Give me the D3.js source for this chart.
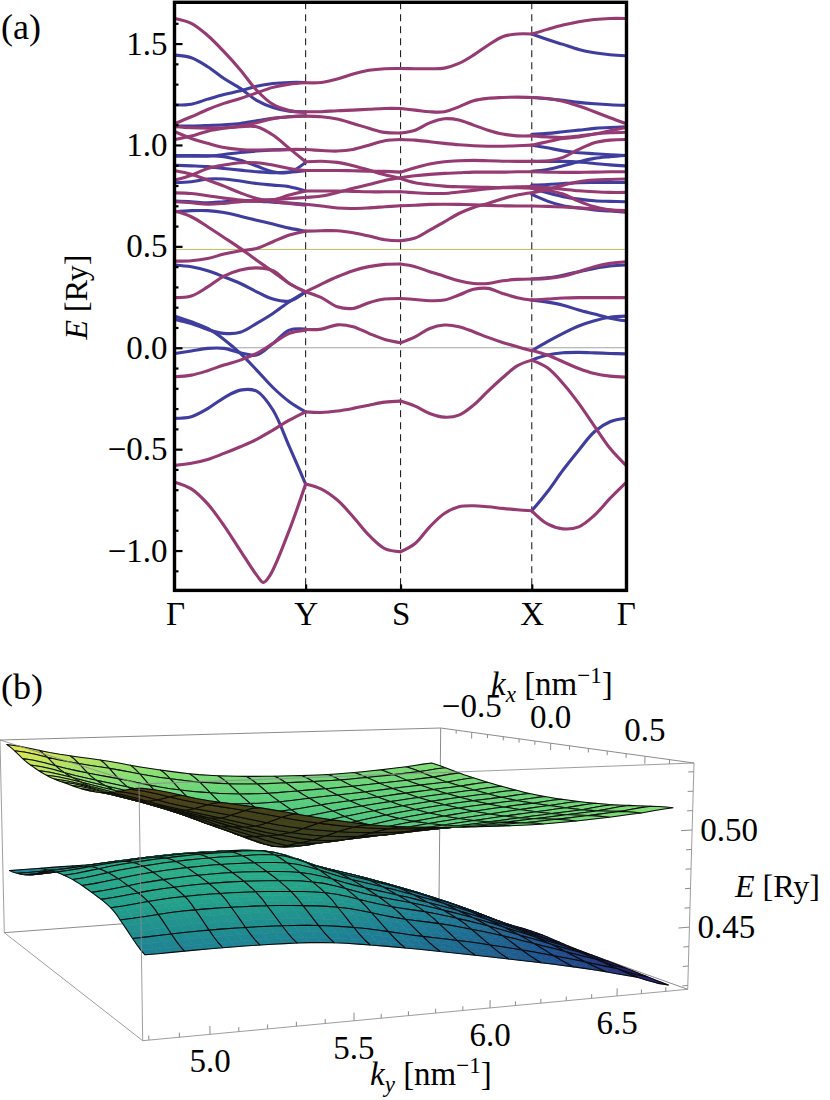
<!DOCTYPE html>
<html>
<head>
<meta charset="utf-8">
<script src="https://cdn.jsdelivr.net/npm/d3@7"></script>
<style>
  html, body { margin: 0; padding: 0; background: #fff; }
  svg { display: block; }
  text { font-family: "Liberation Serif", serif; fill: #000; }
</style>
</head>
<body>
<svg id="chart" width="830" height="1100"></svg>
<script>
// ---- panel (a): band structure, energies in Ry on each k path segment
const pathTicks = [0, 1.307, 2.257, 3.57, 4.51];
const pathNames = ["Γ", "Y", "S", "X", "Γ"];
const energyRange = [-1.198, 1.705];
const fermiLines = [0, 0.485];

const k_gy = [0, 0.163, 0.327, 0.49, 0.654, 0.817, 0.98, 1.144, 1.307];
const k_gy_dip = [0, 0.163, 0.327, 0.49, 0.654, 0.817, 0.885, 0.952, 1.144, 1.307];
const k_ys = [1.307, 1.465, 1.624, 1.782, 1.94, 2.099, 2.257];
const k_sx = [2.257, 2.403, 2.549, 2.695, 2.841, 2.987, 3.132, 3.278, 3.424, 3.57];
const k_xg = [3.57, 3.727, 3.883, 4.04, 4.197, 4.353, 4.51];

// Γ-Y
const gy_blue = [
  [1.443, 1.43, 1.386, 1.328, 1.279, 1.22, 1.185, 1.167, 1.164],
  [1.197, 1.201, 1.226, 1.249, 1.267, 1.29, 1.303, 1.308, 1.308],
  [1.093, 1.093, 1.096, 1.1, 1.106, 1.119, 1.131, 1.139, 1.144],
  [0.948, 0.948, 0.947, 0.942, 0.925, 0.896, 0.868, 0.865, 0.914],
  [0.945, 0.945, 0.945, 0.953, 0.963, 0.97, 0.975, 0.977, 0.978],
  [0.9, 0.897, 0.893, 0.884, 0.876, 0.868, 0.863, 0.866, 0.873],
  [0.814, 0.819, 0.832, 0.832, 0.822, 0.81, 0.802, 0.794, 0.773],
  [0.723, 0.72, 0.715, 0.72, 0.725, 0.723, 0.718, 0.713, 0.708],
  [0.671, 0.676, 0.676, 0.667, 0.649, 0.629, 0.61, 0.59, 0.575],
  [0.408, 0.399, 0.38, 0.35, 0.317, 0.276, 0.24, 0.23, 0.276],
  [0.156, 0.128, 0.095, 0.041, -0.028, -0.11, -0.196, -0.266, -0.316],
  [0.14, 0.12, 0.09, 0.071, 0.076, 0.12, 0.169, 0.227, 0.276],
  [-0.028, -0.016, -0.003, -0.003, -0.025, -0.036, 0.021, 0.087, 0.092],
  [-0.348, -0.34, -0.3, -0.247, -0.209, -0.214, -0.307, -0.488, -0.672]
];
const gy_purple = [
  [1.624, 1.6, 1.54, 1.46, 1.37, 1.27, 1.2, 1.17, 1.16],
  [1.106, 1.139, 1.175, 1.205, 1.229, 1.257, 1.284, 1.3, 1.307],
  [1.09, 1.085, 1.083, 1.085, 1.093, 1.11, 1.13, 1.139, 1.142],
  [1.027, 1.044, 1.068, 1.082, 1.09, 1.09, 1.049, 0.983, 0.917],
  [1.065, 1.032, 1.008, 0.988, 0.978, 0.975, 0.976, 0.978, 0.978],
  [0.827, 0.851, 0.884, 0.901, 0.912, 0.912, 0.901, 0.884, 0.874],
  [0.873, 0.856, 0.827, 0.797, 0.764, 0.736, 0.722, 0.712, 0.703],
  [0.764, 0.761, 0.75, 0.738, 0.728, 0.723, 0.728, 0.753, 0.773],
  [0.72, 0.715, 0.708, 0.712, 0.72, 0.728, 0.731, 0.736, 0.741],
  [0.674, 0.646, 0.597, 0.544, 0.49, 0.432, 0.375, 0.317, 0.276],
  [0.427, 0.429, 0.44, 0.462, 0.478, 0.49, 0.523, 0.556, 0.575],
  [0.247, 0.255, 0.3, 0.353, 0.383, 0.394, 0.38, 0.317, 0.276],
  [-0.143, -0.135, -0.113, -0.085, -0.061, -0.028, 0.021, 0.071, 0.087],
  [-0.58, -0.57, -0.551, -0.521, -0.488, -0.452, -0.406, -0.357, -0.316]
];
const gy_purple_dip = [-0.663, -0.696, -0.77, -0.877, -1.0, -1.121, -1.157, -1.121, -0.899, -0.672];

// Y-S
const ys_purple = [
  [1.307, 1.308, 1.325, 1.35, 1.368, 1.376, 1.377],
  [1.164, 1.164, 1.169, 1.172, 1.176, 1.18, 1.18],
  [1.142, 1.139, 1.128, 1.106, 1.082, 1.062, 1.059],
  [0.978, 0.973, 0.97, 0.978, 0.999, 1.021, 1.027],
  [0.917, 0.92, 0.914, 0.898, 0.876, 0.853, 0.835],
  [0.874, 0.874, 0.874, 0.873, 0.871, 0.87, 0.866],
  [0.741, 0.748, 0.766, 0.786, 0.805, 0.825, 0.838],
  [0.773, 0.773, 0.773, 0.771, 0.769, 0.769, 0.769],
  [0.708, 0.699, 0.689, 0.687, 0.69, 0.695, 0.7],
  [0.575, 0.577, 0.577, 0.567, 0.551, 0.533, 0.528],
  [0.276, 0.314, 0.35, 0.38, 0.4, 0.411, 0.413],
  [0.276, 0.247, 0.202, 0.194, 0.222, 0.24, 0.243],
  [0.09, 0.092, 0.113, 0.104, 0.071, 0.041, 0.025],
  [-0.316, -0.319, -0.312, -0.299, -0.283, -0.268, -0.263],
  [-0.672, -0.697, -0.751, -0.833, -0.924, -0.99, -1.006]
];

// S-X
const sx_purple = [
  [1.377, 1.376, 1.376, 1.379, 1.402, 1.443, 1.492, 1.534, 1.547, 1.547],
  [1.18, 1.172, 1.164, 1.164, 1.188, 1.218, 1.23, 1.234, 1.236, 1.234],
  [1.059, 1.073, 1.109, 1.129, 1.123, 1.098, 1.073, 1.054, 1.045, 1.045],
  [1.027, 1.024, 1.016, 1.008, 1.001, 0.996, 0.994, 0.994, 0.996, 0.999],
  [0.835, 0.814, 0.804, 0.797, 0.794, 0.792, 0.791, 0.789, 0.789, 0.787],
  [0.866, 0.888, 0.906, 0.917, 0.922, 0.924, 0.922, 0.92, 0.919, 0.919],
  [0.838, 0.848, 0.855, 0.86, 0.863, 0.866, 0.866, 0.866, 0.868, 0.868],
  [0.769, 0.764, 0.761, 0.761, 0.768, 0.776, 0.784, 0.791, 0.794, 0.795],
  [0.7, 0.703, 0.707, 0.708, 0.707, 0.705, 0.702, 0.7, 0.699, 0.699],
  [0.528, 0.541, 0.58, 0.621, 0.662, 0.692, 0.712, 0.735, 0.753, 0.764],
  [0.413, 0.4, 0.375, 0.353, 0.33, 0.317, 0.317, 0.33, 0.337, 0.339],
  [0.243, 0.238, 0.232, 0.235, 0.26, 0.288, 0.293, 0.268, 0.247, 0.235],
  [0.025, 0.054, 0.095, 0.112, 0.104, 0.079, 0.051, 0.026, 0.005, -0.015],
  [-0.263, -0.288, -0.324, -0.342, -0.332, -0.283, -0.214, -0.148, -0.089, -0.061],
  [-1.006, -0.965, -0.883, -0.817, -0.784, -0.779, -0.784, -0.792, -0.799, -0.804]
];

// X-Γ
const xg_blue = [
  [1.547, 1.52, 1.496, 1.471, 1.455, 1.445, 1.44],
  [1.234, 1.228, 1.22, 1.21, 1.203, 1.198, 1.195],
  [1.052, 1.057, 1.065, 1.073, 1.082, 1.086, 1.09],
  [0.999, 0.986, 0.971, 0.962, 0.957, 0.952, 0.948],
  [0.87, 0.879, 0.897, 0.917, 0.934, 0.942, 0.948],
  [0.919, 0.919, 0.919, 0.916, 0.909, 0.902, 0.897],
  [0.802, 0.805, 0.81, 0.814, 0.815, 0.815, 0.815],
  [0.786, 0.764, 0.745, 0.733, 0.725, 0.722, 0.72],
  [0.756, 0.723, 0.7, 0.689, 0.68, 0.674, 0.669],
  [0.339, 0.345, 0.358, 0.375, 0.391, 0.403, 0.408],
  [0.235, 0.225, 0.21, 0.186, 0.166, 0.146, 0.133],
  [-0.015, 0.03, 0.071, 0.107, 0.133, 0.15, 0.156],
  [-0.061, -0.036, -0.025, -0.023, -0.025, -0.028, -0.03],
  [-0.804, -0.71, -0.603, -0.505, -0.414, -0.365, -0.348]
];
const xg_purple = [
  [1.547, 1.57, 1.591, 1.608, 1.619, 1.624, 1.624],
  [1.234, 1.229, 1.216, 1.192, 1.164, 1.134, 1.106],
  [1.045, 1.04, 1.037, 1.044, 1.054, 1.06, 1.063],
  [0.999, 1.016, 1.032, 1.04, 1.054, 1.07, 1.086],
  [0.919, 0.921, 0.939, 0.978, 1.011, 1.024, 1.027],
  [0.868, 0.866, 0.865, 0.865, 0.866, 0.868, 0.868],
  [0.764, 0.781, 0.802, 0.819, 0.827, 0.83, 0.832],
  [0.795, 0.79, 0.782, 0.774, 0.769, 0.766, 0.766],
  [0.787, 0.777, 0.758, 0.723, 0.695, 0.679, 0.671],
  [0.699, 0.697, 0.694, 0.69, 0.685, 0.68, 0.676],
  [0.339, 0.342, 0.353, 0.375, 0.4, 0.416, 0.424],
  [0.235, 0.24, 0.245, 0.247, 0.247, 0.247, 0.247],
  [-0.012, -0.036, -0.069, -0.102, -0.127, -0.14, -0.145],
  [-0.061, -0.099, -0.176, -0.274, -0.386, -0.496, -0.579],
  [-0.804, -0.869, -0.893, -0.883, -0.826, -0.743, -0.666]
];

// ---- panel (b): two surfaces near the crossing, E in Ry
const kyNodes = [4.8, 5.0, 5.2, 5.4, 5.6, 5.8, 6.0, 6.2, 6.4, 6.6, 6.73];
const kxNodes = [-0.68, -0.45, -0.22, 0, 0.22, 0.45, 0.68];

const upper_kx0 = [0.5215, 0.5135, 0.504, 0.4925, 0.4825, 0.4885, 0.4935, 0.4975, 0.5005, 0.5025, 0.504];
const upper_kx22 = [0.522, 0.5145, 0.506, 0.4965, 0.4895, 0.4915, 0.4955, 0.4985, 0.5012, 0.5035, 0.505];
const upper_kx45 = [0.5255, 0.5175, 0.5105, 0.5035, 0.4995, 0.4985, 0.5, 0.5015, 0.5035, 0.5055, 0.5075];
const upper_kx68 = [0.532, 0.5255, 0.5205, 0.5145, 0.5098, 0.5075, 0.5066, 0.5064, 0.5075, 0.5095, 0.5114];

const lower_kx0 = [0.472, 0.476, 0.4785, 0.4795, 0.4785, 0.4685, 0.46, 0.451, 0.4407, 0.429, 0.4227];
const lower_kx22 = [0.471, 0.4745, 0.4765, 0.4765, 0.474, 0.4655, 0.4575, 0.449, 0.439, 0.4285, 0.4215];
const lower_kx45 = [0.4675, 0.47, 0.4705, 0.4695, 0.4665, 0.459, 0.453, 0.4455, 0.4365, 0.4275, 0.421];
const lower_kx68 = [0.456, 0.4565, 0.4565, 0.4555, 0.452, 0.4475, 0.4425, 0.4375, 0.432, 0.4255, 0.42];
// far side reads lower than the near side at small ky
const lower_far22 = [0.4695, 0.472, 0.474, 0.475, 0.4735, 0.4655, 0.4575, 0.449, 0.439, 0.4285, 0.4215];
const lower_far45 = [0.4605, 0.4625, 0.4655, 0.467, 0.465, 0.459, 0.453, 0.4455, 0.4365, 0.4275, 0.421];

const kyLabels = [5, 5.5, 6, 6.5];
const kxLabels = [-0.5, 0, 0.5];
const eLabels = [0.45, 0.5];

const BLUE = "#3f3e9f";
const PURPLE = "#963a72";
const TICK_FONT = 33;
const svg = d3.select("#chart");

// ---- panel (a)
const frame = { left: 174.5, right: 626.5, top: 2.3, bottom: 590.4 };
const xBand = d3.scaleLinear().domain([0, 4.51]).range([175, 625.7]);
const yBand = d3.scaleLinear().domain(energyRange).range([590.7, 2]);

const a = svg.append("g");
a.append("clipPath").attr("id", "plotClip").append("rect")
  .attr("x", frame.left).attr("y", frame.top)
  .attr("width", frame.right - frame.left).attr("height", frame.bottom - frame.top);

a.selectAll(".flat").data(fermiLines).join("line")
  .attr("x1", frame.left).attr("x2", frame.right)
  .attr("y1", d => yBand(d)).attr("y2", d => yBand(d))
  .attr("stroke", (d, i) => i === 0 ? "#a3a3a3" : "#b9b964")
  .attr("stroke-width", 1);

a.selectAll(".vline").data(pathTicks.slice(1, 4)).join("line")
  .attr("x1", d => xBand(d)).attr("x2", d => xBand(d))
  .attr("y1", frame.top).attr("y2", frame.bottom)
  .attr("stroke", "#222").attr("stroke-width", 1.1)
  .attr("stroke-dasharray", "7 5");

const bandLine = d3.line().curve(d3.curveCatmullRom.alpha(0.5));
function drawBands(ks, bands, color) {
  a.append("g").attr("clip-path", "url(#plotClip)")
    .selectAll("path").data(bands).join("path")
    .attr("d", es => bandLine(es.map((e, i) => [xBand(ks[i]), yBand(e)])))
    .attr("fill", "none").attr("stroke", color)
    .attr("stroke-width", 3.1).attr("stroke-linecap", "round");
}
drawBands(k_gy, gy_blue, BLUE);
drawBands(k_xg, xg_blue, BLUE);
drawBands(k_gy, gy_purple, PURPLE);
drawBands(k_gy_dip, [gy_purple_dip], PURPLE);
drawBands(k_ys, ys_purple, PURPLE);
drawBands(k_sx, sx_purple, PURPLE);
drawBands(k_xg, xg_purple, PURPLE);

const yMinor = d3.range(-11, 17).map(d => d / 10).filter(d => Math.abs(d * 10) % 5 !== 0);
const yMajor = [-1, -0.5, 0, 0.5, 1, 1.5];
function tickLines(g) {
  g.select(".domain").remove();
  g.selectAll("line").attr("stroke", "#000").attr("stroke-width", 2.2);
  g.selectAll("text").remove();
}
a.append("g").attr("transform", `translate(${frame.left},0)`)
  .call(d3.axisRight(yBand).tickValues(yMinor).tickSize(4)).call(tickLines);
a.append("g").attr("transform", `translate(${frame.left},0)`)
  .call(d3.axisRight(yBand).tickValues(yMajor).tickSize(8)).call(tickLines);
a.append("g").attr("transform", `translate(0,${frame.bottom})`)
  .call(d3.axisTop(xBand).tickValues(pathTicks.slice(1, 4)).tickSize(6)).call(tickLines);

const yLabels = a.append("g").attr("transform", `translate(${frame.left},0)`)
  .call(d3.axisLeft(yBand).tickValues(yMajor).tickSize(0).tickPadding(7).tickFormat(d3.format(".1f")));
yLabels.select(".domain").remove();
yLabels.selectAll("text").attr("font-size", TICK_FONT).style("font-family", '"Liberation Serif", serif');

const xLabels = a.append("g").attr("transform", `translate(0,${frame.bottom})`)
  .call(d3.axisBottom(xBand).tickValues(pathTicks).tickSize(0).tickPadding(11).tickFormat((d, i) => pathNames[i]));
xLabels.select(".domain").remove();
xLabels.selectAll("text").attr("font-size", TICK_FONT).style("font-family", '"Liberation Serif", serif');

a.append("rect")
  .attr("x", frame.left).attr("y", frame.top)
  .attr("width", frame.right - frame.left).attr("height", frame.bottom - frame.top)
  .attr("fill", "none").attr("stroke", "#000").attr("stroke-width", 3.4);

const yTitle = a.append("text").attr("font-size", 32).attr("text-anchor", "middle")
  .attr("transform", "translate(87,297) rotate(-90)");
yTitle.append("tspan").attr("font-style", "italic").text("E");
yTitle.append("tspan").text(" [Ry]");

svg.append("text").attr("x", 1).attr("y", 39).attr("font-size", 36).text("(a)");
svg.append("text").attr("x", 1).attr("y", 699).attr("font-size", 36).text("(b)");

// ---- panel (b)
const b = svg.append("g");

// perspective is only along the box edges, so the k scales are piecewise
const kyFrac = d3.scaleLinear().domain([4.78, 5, 5.5, 6, 6.5, 6.79]).range([0, 0.1235, 0.3877, 0.6373, 0.8703, 1]);
const kxFrac = d3.scaleLinear().domain([-0.7, -0.5, 0, 0.5, 0.7]).range([0, 0.1224, 0.4343, 0.8065, 1]);
const eFrac = d3.scaleLinear().domain([0.418, 0.5345]).range([0, 1]);

const BOX = {
  lb: [4.3, 932.7], lt: [0, 740],
  fb: [142.7, 1040.7], ft: [139, 784],
  bb: [439, 900], bt: [440.7, 728],
  rb: [687.7, 989.3], rt: [694, 763]
};
const mix = (p, q, t) => [p[0] + (q[0] - p[0]) * t, p[1] + (q[1] - p[1]) * t];
function projectFrac(u, v, w) {
  const low = mix(mix(BOX.lb, BOX.bb, u), mix(BOX.fb, BOX.rb, u), v);
  const high = mix(mix(BOX.lt, BOX.bt, u), mix(BOX.ft, BOX.rt, u), v);
  return mix(low, high, w);
}
const project = (ky, kx, e) => projectFrac(kyFrac(ky), kxFrac(kx), eFrac(e));

const boxLine = d3.line();
function boxEdges(pairs, opacity) {
  b.append("g").selectAll("path").data(pairs).join("path")
    .attr("d", p => boxLine([BOX[p[0]], BOX[p[1]]]))
    .attr("fill", "none").attr("stroke", "#8c8c8c")
    .attr("stroke-width", 1).attr("opacity", opacity);
}
boxEdges([["lt", "bt"], ["bt", "rt"], ["bt", "bb"], ["lb", "bb"], ["bb", "rb"]], 1);

const surfaceColor = d3.scaleLinear()
  .domain([0.42, 0.435, 0.455, 0.47, 0.48, 0.5, 0.515, 0.532])
  .range(["#231a6e", "#1f4f8c", "#1e7f94", "#23a08a", "#2eb287", "#5ed07a", "#90e070", "#e9e74d"]);

function catmull(p0, p1, p2, p3, t) {
  return 0.5 * (2 * p1 + (p2 - p0) * t + (2 * p0 - 5 * p1 + 4 * p2 - p3) * t * t + (3 * p1 - p0 - 3 * p2 + p3) * t * t * t);
}
function smooth(vals, x) {
  const i = Math.min(Math.floor(x), vals.length - 2);
  const at = j => vals[Math.max(0, Math.min(vals.length - 1, j))];
  return catmull(at(i - 1), at(i), at(i + 1), at(i + 2), x - i);
}
const kyIndex = d3.scaleLinear().domain(kyNodes).range(d3.range(kyNodes.length));
const kxIndex = d3.scaleLinear().domain(kxNodes).range(d3.range(kxNodes.length));

function surfaceAt(rows, ky, kx) {
  const across = rows.map(r => smooth(r, kyIndex(ky)));
  return smooth(across, kxIndex(kx));
}

const MESH = 15;
const SUB = 3;
function drawSurface(rows) {
  const n = MESH * SUB;
  const kys = d3.range(n + 1).map(i => 4.8 + (6.73 - 4.8) * i / n);
  const kxs = d3.range(n + 1).map(i => -0.68 + 1.36 * i / n);
  const grid = kxs.map(kx => kys.map(ky => {
    const e = surfaceAt(rows, ky, kx);
    return { e, p: project(ky, kx, e) };
  }));
  const items = [];
  // back to front: kx rising, ky falling
  for (let mi = 0; mi < MESH; mi++) {
    for (let mj = MESH - 1; mj >= 0; mj--) {
      for (let i = mi * SUB; i < (mi + 1) * SUB; i++) {
        for (let j = (mj + 1) * SUB - 1; j >= mj * SUB; j--) {
          const q = [grid[i][j], grid[i][j + 1], grid[i + 1][j + 1], grid[i + 1][j]];
          const pts = q.map(c => c.p);
          const area = d3.polygonArea(pts);
          const e = d3.mean(q, c => c.e);
          const lit = surfaceColor(e);
          // facets seen from below come out with the opposite winding
          const col = area > 0 ? d3.interpolateRgb(lit, "#38280c")(0.86) : lit;
          items.push({ pts, fill: col, stroke: col, sw: 0.6, closed: true });
        }
      }
      const i0 = mi * SUB, i1 = (mi + 1) * SUB, j0 = mj * SUB, j1 = (mj + 1) * SUB;
      const ring = [];
      for (let j = j0; j <= j1; j++) ring.push(grid[i0][j].p);
      for (let i = i0; i <= i1; i++) ring.push(grid[i][j1].p);
      for (let j = j1; j >= j0; j--) ring.push(grid[i1][j].p);
      for (let i = i1; i >= i0; i--) ring.push(grid[i][j0].p);
      items.push({ pts: ring, fill: "none", stroke: "#0a0a0a", sw: 1.05, closed: true });
    }
  }
  b.append("g").selectAll("path").data(items).join("path")
    .attr("d", d => boxLine(d.pts) + "Z")
    .attr("fill", d => d.fill)
    .attr("stroke", d => d.stroke)
    .attr("stroke-width", d => d.sw)
    .attr("stroke-linejoin", "round");
}
drawSurface([lower_kx68, lower_far45, lower_far22, lower_kx0, lower_kx22, lower_kx45, lower_kx68]);
drawSurface([upper_kx68, upper_kx45, upper_kx22, upper_kx0, upper_kx22, upper_kx45, upper_kx68]);

boxEdges([["lt", "ft"], ["ft", "rt"], ["lt", "lb"], ["ft", "fb"], ["rt", "rb"], ["lb", "fb"], ["fb", "rb"]], 0.85);

// box ticks
const tickSeg = (a1, a2) => boxLine([a1, a2]);
const kyMax = kxFrac.domain()[4], eMin = eFrac.domain()[0], eMax = eFrac.domain()[1];
const isMajor = v => Math.abs(v * 2 - Math.round(v * 2)) < 1e-6;
const kyTicks = d3.range(48, 68).map(d => d / 10);
const kxTicks = d3.range(-6, 7).map(d => d / 10);
const eTicks = d3.range(42, 54).map(d => d / 100);
const tickG = b.append("g").attr("fill", "none").attr("stroke", "#8c8c8c").attr("stroke-width", 1);
tickG.selectAll(".ky").data(kyTicks).join("path")
  .attr("d", d => tickSeg(project(d, kyMax, eMin), projectFrac(kyFrac(d), 1, isMajor(d) ? 0.033 : 0.018)));
tickG.selectAll(".kx").data(kxTicks).join("path")
  .attr("d", d => tickSeg(project(6.79, d, eMax), projectFrac(1, kxFrac(d), isMajor(d) ? 0.965 : 0.98)));
tickG.selectAll(".e").data(eTicks).join("path")
  .attr("d", d => tickSeg(project(6.79, kyMax, d), projectFrac(Math.abs(d * 20 - Math.round(d * 20)) < 1e-6 ? 0.98 : 0.99, 1, eFrac(d))));

// box tick labels
const fmt1 = d3.format(".1f"), fmt2 = d3.format(".2f");
b.append("g").selectAll("text").data(kyLabels).join("text")
  .attr("x", d => project(d, kyMax, eMin)[0])
  .attr("y", d => project(d, kyMax, eMin)[1] + 38)
  .attr("font-size", TICK_FONT).attr("text-anchor", "middle").text(fmt1);
b.append("g").selectAll("text").data(kxLabels).join("text")
  .attr("x", d => project(6.79, d, eMax)[0])
  .attr("y", d => project(6.79, d, eMax)[1] - 15)
  .attr("font-size", TICK_FONT).attr("text-anchor", "middle").text(fmt1);
b.append("g").selectAll("text").data(eLabels).join("text")
  .attr("x", d => project(6.79, kyMax, d)[0] + 8)
  .attr("y", d => project(6.79, kyMax, d)[1] + 11)
  .attr("font-size", TICK_FONT).text(fmt2);

// box axis titles
function kTitle(x, y, sub) {
  const t = b.append("text").attr("x", x).attr("y", y).attr("font-size", 33);
  t.append("tspan").attr("font-style", "italic").text("k");
  t.append("tspan").attr("font-style", "italic").attr("font-size", 23).attr("dy", 7).text(sub);
  t.append("tspan").attr("dy", -7).text(" [nm");
  t.append("tspan").attr("font-size", 23).attr("dy", -12).text("−1");
  t.append("tspan").attr("dy", 12).text("]");
}
kTitle(370, 1085, "y");
kTitle(491, 695, "x");
const eTitle = b.append("text").attr("x", 735).attr("y", 897).attr("font-size", 32);
eTitle.append("tspan").attr("font-style", "italic").text("E");
eTitle.append("tspan").text(" [Ry]");
</script>
</body>
</html>
